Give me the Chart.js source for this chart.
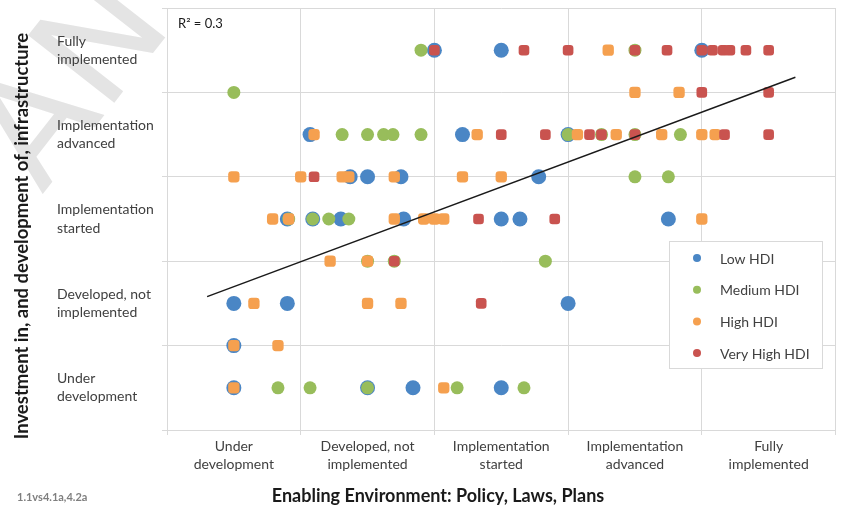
<!DOCTYPE html>
<html>
<head>
<meta charset="utf-8">
<script src="https://cdn.jsdelivr.net/npm/chart.js@4.4.1/dist/chart.umd.min.js"></script>
<style>
  html, body { margin: 0; padding: 0; background: #ffffff; }
  canvas { display: block; }
</style>
</head>
<body>
<canvas id="hdiChart" width="843" height="509"></canvas>
<script>
(function () {
    "use strict";

    // Category names used on both axes (tick at 0.5, 1.5, ...)
    const levelLabels = [
        ["Under", "development"],
        ["Developed, not", "implemented"],
        ["Implementation", "started"],
        ["Implementation", "advanced"],
        ["Fully", "implemented"],
    ];

    const seriesNames = ["Low HDI", "Medium HDI", "High HDI", "Very High HDI"];
    const seriesColors = ["#4a86c5", "#98bd5b", "#f5a04f", "#c9534f"];

    // Low HDI
    const lowX = [2.00, 2.50, 4.00, 1.07, 2.21, 3.00, 1.37, 1.50, 1.75, 2.78,
        0.90, 1.09, 1.30, 1.77, 2.50, 2.64, 3.75, 0.50, 0.90, 3.00, 0.50,
        0.50, 1.50, 1.84, 2.50];
    const lowY = [4.5, 4.5, 4.5, 3.5, 3.5, 3.5, 3, 3, 3, 3,
        2.5, 2.5, 2.5, 2.5, 2.5, 2.5, 2.5, 1.5, 1.5, 1.5, 1,
        0.5, 0.5, 0.5, 0.5];

    // Medium HDI
    const medX = [1.90, 3.50, 0.50, 1.31, 1.50, 1.62, 1.69, 1.90, 3.00, 3.25,
        3.50, 3.84, 3.50, 3.75, 0.91, 1.09, 1.21, 1.36, 1.50, 1.70, 2.83,
        0.83, 1.07, 1.50, 2.17, 2.67];
    const medY = [4.5, 4.5, 4, 3.5, 3.5, 3.5, 3.5, 3.5, 3.5, 3.5,
        3.5, 3.5, 3, 3, 2.5, 2.5, 2.5, 2.5, 2, 2, 2,
        0.5, 0.5, 0.5, 0.5, 0.5];

    // High HDI
    const highX = [3.30, 3.50, 3.83, 1.10, 2.32, 3.07, 3.36, 3.70, 4.00, 4.10,
        0.50, 1.00, 1.31, 1.36, 1.70, 2.21, 2.50, 0.79, 0.91, 1.70, 1.92,
        2.00, 2.07, 4.00, 1.22, 1.50, 0.65, 1.50, 1.75, 0.50, 0.83, 0.50, 2.07];
    const highY = [4.5, 4, 4, 3.5, 3.5, 3.5, 3.5, 3.5, 3.5, 3.5,
        3, 3, 3, 3, 3, 3, 3, 2.5, 2.5, 2.5, 2.5,
        2.5, 2.5, 2.5, 2, 2, 1.5, 1.5, 1.5, 1, 1, 0.5, 0.5];

    // Very High HDI
    const vhighX = [2.00, 2.67, 3.00, 3.50, 3.74, 4.00, 4.08, 4.16, 4.21, 4.33,
        4.50, 4.00, 4.50, 2.50, 2.83, 3.16, 3.25, 3.50, 4.17, 4.50, 1.10,
        2.33, 2.90, 1.70, 2.35];
    const vhighY = [4.5, 4.5, 4.5, 4.5, 4.5, 4.5, 4.5, 4.5, 4.5, 4.5,
        4.5, 4, 4, 3.5, 3.5, 3.5, 3.5, 3.5, 3.5, 3.5, 3,
        2.5, 2.5, 2, 1.5];

    // Linear trend line end points
    const trendX = [0.30, 4.70];
    const trendY = [1.58, 4.18];
    const rSquared = "R² = 0.3";

    const xTitle = "Enabling Environment: Policy, Laws, Plans";
    const yTitle = "Investment in, and development of, infrastructure";
    const sourceTag = "1.1vs4.1a,4.2a";

    const FONT = "Lato, 'Open Sans', sans-serif";
    const GRID = "#d9d9d9";

    const toPoints = (xs, ys) => xs.map((x, i) => ({ x: x, y: ys[i] }));

    const levelTick = (v) => {
        const r = Math.round(v * 2) / 2;
        return r % 1 === 0.5 ? levelLabels[Math.floor(r)] : "";
    };
    const gridColor = (c) =>
        c.tick && Math.abs(c.tick.value % 1) < 1e-6 ? GRID : "rgba(0,0,0,0)";

    const extras = {
        id: "extras",
        beforeDraw(chart) {
            const ctx = chart.ctx;
            ctx.save();
            ctx.fillStyle = "#ffffff";
            ctx.fillRect(0, 0, chart.width, chart.height);
            // faint watermark in the corner
            ctx.translate(42, 195);
            ctx.rotate(-52 * Math.PI / 180);
            ctx.font = "150px 'DejaVu Sans'";
            ctx.fillStyle = "#e4e4e4";
            ctx.textBaseline = "alphabetic";
            ctx.fillText("ANC", 0, 0);
            ctx.restore();
        },
        afterDraw(chart) {
            const ctx = chart.ctx;
            const area = chart.chartArea;
            ctx.save();

            // R squared
            ctx.font = "13px " + FONT;
            ctx.fillStyle = "#1a1a1a";
            ctx.textAlign = "left";
            ctx.textBaseline = "middle";
            ctx.fillText(rSquared, area.left + 11, area.top + 16);

            // axis titles
            ctx.font = "bold 18px " + FONT;
            ctx.fillStyle = "#1a1a1a";
            ctx.textAlign = "center";
            ctx.fillText(xTitle, 438, 496);
            ctx.save();
            ctx.translate(22, 236);
            ctx.rotate(-Math.PI / 2);
            ctx.font = "bold 18.5px " + FONT;
            ctx.fillText(yTitle, 0, 0);
            ctx.restore();

            // source tag
            ctx.font = "bold 11px " + FONT;
            ctx.fillStyle = "#7f7f7f";
            ctx.textAlign = "left";
            ctx.fillText(sourceTag, 17, 497);

            // legend box
            const bx = 669, by = 241, bw = 153, bh = 127;
            ctx.fillStyle = "#ffffff";
            ctx.fillRect(bx, by, bw, bh);
            ctx.strokeStyle = GRID;
            ctx.lineWidth = 1;
            ctx.strokeRect(bx + 0.5, by + 0.5, bw, bh);
            ctx.font = "14px " + FONT;
            seriesNames.forEach((name, i) => {
                const cy = by + 17 + i * 31.7;
                ctx.fillStyle = seriesColors[i];
                ctx.beginPath();
                ctx.arc(bx + 28, cy, 4, 0, Math.PI * 2);
                ctx.fill();
                ctx.fillStyle = "#404040";
                ctx.fillText(name, bx + 51, cy + 1);
            });
            ctx.restore();
        },
    };

    const marker = (i, style, r, order) => ({
        type: "scatter",
        label: seriesNames[i],
        backgroundColor: seriesColors[i],
        borderColor: seriesColors[i],
        borderWidth: 0,
        pointStyle: style,
        pointRadius: r,
        pointHoverRadius: r,
        order: order,
    });

    const noPad = (s) => {
        s.paddingTop = 0;
        s.paddingBottom = 0;
        s.paddingLeft = 0;
        s.paddingRight = 0;
    };

    const ctx = document.getElementById("hdiChart").getContext("2d");

    new Chart(ctx, {
        type: "scatter",
        data: {
            datasets: [
                Object.assign(marker(0, "circle", 7.5, 5), { data: toPoints(lowX, lowY) }),
                Object.assign(marker(1, "circle", 6.5, 4), { data: toPoints(medX, medY) }),
                Object.assign(marker(2, "rectRounded", 6.6, 3), { data: toPoints(highX, highY) }),
                Object.assign(marker(3, "rectRounded", 6.2, 2), { data: toPoints(vhighX, vhighY) }),
                {
                    type: "line",
                    label: "Trend",
                    data: toPoints(trendX, trendY),
                    borderColor: "#1a1a1a",
                    borderWidth: 1.5,
                    pointRadius: 0,
                    showLine: true,
                    fill: false,
                    order: 1,
                },
            ],
        },
        options: {
            responsive: false,
            animation: false,
            layout: {
                padding: { left: 57, top: 8, right: 7, bottom: 0 },
            },
            plugins: {
                legend: { display: false },
                tooltip: { enabled: false },
            },
            scales: {
                x: {
                    type: "linear",
                    min: 0,
                    max: 5,
                    afterFit: (s) => { s.height = 79; noPad(s); },
                    grid: { color: gridColor, tickLength: 5, lineWidth: 1 },
                    border: { color: GRID },
                    ticks: {
                        stepSize: 0.5,
                        autoSkip: false,
                        maxRotation: 0,
                        padding: 2,
                        color: "#404040",
                        font: { family: FONT, size: 14, lineHeight: 1.3 },
                        callback: levelTick,
                    },
                },
                y: {
                    type: "linear",
                    min: 0,
                    max: 5,
                    afterFit: (s) => { s.width = 110; noPad(s); },
                    grid: { color: gridColor, tickLength: 5, lineWidth: 1 },
                    border: { color: GRID },
                    ticks: {
                        stepSize: 0.5,
                        autoSkip: false,
                        crossAlign: "far",
                        color: "#404040",
                        font: { family: FONT, size: 14, lineHeight: 1.3 },
                        callback: levelTick,
                    },
                },
            },
        },
        plugins: [extras],
    });
})();
</script>
</body>
</html>
